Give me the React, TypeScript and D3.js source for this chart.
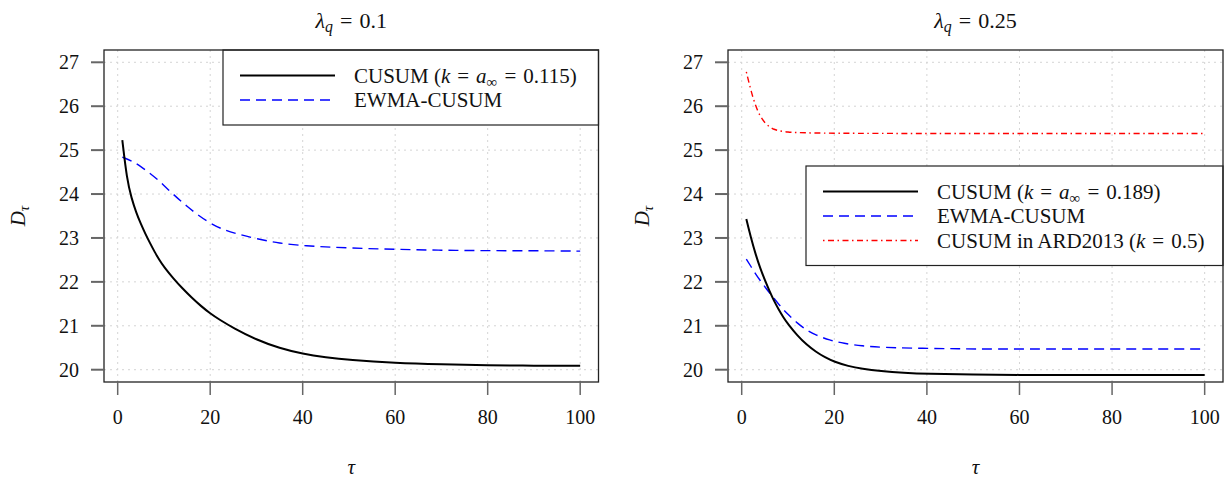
import React from 'react';
import * as d3 from 'd3';

// tau values at which the curves were read
const tauLeftBlack = [1, 2, 3, 4, 5, 6, 7, 8, 9, 10, 12, 14, 16, 18, 20, 22, 25, 30, 35, 40, 45, 50, 60, 70, 80, 90, 100];
const cusumLeft = [25.23, 24.33, 23.9, 23.58, 23.32, 23.09, 22.88, 22.68, 22.5, 22.34, 22.08, 21.85, 21.64, 21.45, 21.28, 21.14, 20.95, 20.68, 20.49, 20.36, 20.28, 20.22, 20.15, 20.12, 20.1, 20.09, 20.09];

const tauLeftBlue = [1, 3, 5, 7, 9, 11, 13, 15, 17, 20, 23, 26, 30, 35, 40, 50, 60, 70, 80, 90, 100];
const ewmaLeft = [24.84, 24.76, 24.63, 24.47, 24.3, 24.09, 23.9, 23.72, 23.55, 23.33, 23.18, 23.09, 22.98, 22.88, 22.82, 22.77, 22.74, 22.72, 22.71, 22.71, 22.7];

const tauRightBlack = [1, 2, 3, 4, 5, 6, 7, 8, 9, 10, 12, 14, 16, 18, 20, 23, 26, 30, 35, 40, 50, 60, 70, 80, 90, 100];
const cusumRight = [23.43, 23.0, 22.63, 22.31, 22.04, 21.79, 21.56, 21.37, 21.19, 21.04, 20.78, 20.57, 20.41, 20.28, 20.18, 20.08, 20.02, 19.97, 19.93, 19.905, 19.89, 19.88, 19.88, 19.88, 19.88, 19.88];

const tauRightBlue = [1, 2, 3, 4, 5, 6, 7, 8, 9, 10, 12, 14, 16, 19, 22, 26, 30, 37, 45, 50, 60, 80, 100];
const ewmaRight = [22.52, 22.35, 22.18, 22.03, 21.89, 21.75, 21.62, 21.49, 21.37, 21.26, 21.06, 20.9, 20.79, 20.67, 20.6, 20.54, 20.51, 20.49, 20.48, 20.47, 20.47, 20.47, 20.47];

const tauRightRed = [1, 2, 3, 4, 5, 6, 7, 8, 10, 12, 15, 20, 30, 40, 60, 80, 100];
const ardRight = [26.78, 26.35, 26.0, 25.77, 25.62, 25.53, 25.47, 25.44, 25.41, 25.4, 25.39, 25.385, 25.38, 25.38, 25.38, 25.38, 25.38];

const xTicks = [0, 20, 40, 60, 80, 100];
const yTicks = [20, 21, 22, 23, 24, 25, 26, 27];

const FONT = '"Liberation Serif", "DejaVu Serif", serif';

type Series = { tau: number[]; vals: number[]; color: string; width: number; dash?: string };
type LegendItem = { color: string; width: number; dash?: string; label: React.ReactNode };

const Sub = ({ children, italic }: { children: React.ReactNode; italic?: boolean }) => (
  <tspan dy={4} fontSize="0.72em" fontStyle={italic ? 'italic' : 'normal'}>{children}</tspan>
);

// "=" with math-like spacing; dy undoes a preceding subscript
const GAP = 7;
const Eq = ({ dy }: { dy?: number }) => <tspan dx={GAP} dy={dy}>=</tspan>;

function Panel(props: {
  left: number; right: number; title: React.ReactNode; series: Series[];
  legend: LegendItem[]; legendBox: { x: number; y: number }; ylabelX: number;
}) {
  const top = 50, bottom = 382;
  const x = d3.scaleLinear().domain([1 - 0.04 * 99, 100 + 0.04 * 99]).range([props.left, props.right]);
  const y = d3.scaleLinear().domain([20 - 0.04 * 7, 27 + 0.04 * 7]).range([bottom, top]);
  const line = d3.line<[number, number]>().x(d => x(d[0])).y(d => y(d[1])).curve(d3.curveBasis);
  const cx = (props.left + props.right) / 2;
  const lb = props.legendBox;
  const rowH = 24.5;
  const lbH = 25.5 + rowH * (props.legend.length - 1) + 25;

  return (
    <g fontFamily={FONT}>
      {/* grid */}
      {xTicks.map(t => (
        <line key={'gx' + t} x1={x(t)} x2={x(t)} y1={top} y2={bottom} stroke="#d4d4d4" strokeDasharray="2,4" />
      ))}
      {yTicks.map(t => (
        <line key={'gy' + t} x1={props.left} x2={props.right} y1={y(t)} y2={y(t)} stroke="#d4d4d4" strokeDasharray="2,4" />
      ))}

      {/* curves */}
      {props.series.map((s, i) => (
        <path key={i} d={line(s.tau.map((t, j) => [t, s.vals[j]]) as [number, number][]) || ''}
          fill="none" stroke={s.color} strokeWidth={s.width} strokeDasharray={s.dash} />
      ))}

      {/* legend */}
      <rect x={lb.x} y={lb.y} width={props.right - lb.x} height={lbH} fill="white" stroke="#222" strokeWidth={1.2} />
      {props.legend.map((it, i) => {
        const ry = lb.y + 25.5 + i * rowH;
        return (
          <g key={i}>
            <line x1={lb.x + 17} x2={lb.x + 112} y1={ry} y2={ry} stroke={it.color} strokeWidth={it.width} strokeDasharray={it.dash} />
            <text x={lb.x + 131} y={ry + 7} fontSize={21} fill="#111">{it.label}</text>
          </g>
        );
      })}

      {/* frame */}
      <rect x={props.left} y={top} width={props.right - props.left} height={bottom - top} fill="none" stroke="#222" strokeWidth={1.3} />

      {/* y axis */}
      {yTicks.map(t => (
        <g key={'yt' + t}>
          <line x1={props.left - 13} x2={props.left} y1={y(t)} y2={y(t)} stroke="#666" strokeWidth={2} />
          <text x={props.left - 25} y={y(t) + 7} textAnchor="end" fontSize={20} fill="#111">{t}</text>
        </g>
      ))}
      {/* x axis */}
      {xTicks.map(t => (
        <g key={'xt' + t}>
          <line x1={x(t)} x2={x(t)} y1={bottom} y2={bottom + 13} stroke="#666" strokeWidth={1.5} />
          <text x={x(t)} y={424} textAnchor="middle" fontSize={20} fill="#111">{t}</text>
        </g>
      ))}

      {/* labels */}
      <text x={cx} y={28} textAnchor="middle" fontSize={22} fill="#111">{props.title}</text>
      <text x={cx} y={474} textAnchor="middle" fontSize={21} fontStyle="italic" fill="#111">τ</text>
      <text transform={`translate(${props.ylabelX},${(top + bottom) / 2}) rotate(-90)`} textAnchor="middle" fontSize={21} fill="#111">
        <tspan fontStyle="italic">D</tspan><Sub italic>τ</Sub>
      </text>
    </g>
  );
}

const lambdaTitle = (v: string) => (
  <>
    <tspan fontStyle="italic">λ</tspan><Sub italic>q</Sub><Eq dy={-4} /><tspan dx={GAP}>{v}</tspan>
  </>
);

const cusumLabel = (v: string) => (
  <>
    CUSUM (<tspan fontStyle="italic">k</tspan><Eq /><tspan dx={GAP} fontStyle="italic">a</tspan><Sub>∞</Sub>
    <Eq dy={-4} /><tspan dx={GAP}>{v + ')'}</tspan>
  </>
);

export default function App() {
  const black = { color: '#000', width: 2 };
  const blue = { color: '#0000ff', width: 1.4, dash: '10,6' };
  const red = { color: '#ff0000', width: 1.4, dash: '1.5,3.5,6,3.5' };

  return (
    <svg width={1231} height={481} style={{ position: 'absolute', left: 0, top: 0, background: 'white' }}>
      <Panel
        left={104} right={598.5} title={lambdaTitle('0.1')} ylabelX={25}
        series={[
          { tau: tauLeftBlue, vals: ewmaLeft, ...blue },
          { tau: tauLeftBlack, vals: cusumLeft, ...black },
        ]}
        legendBox={{ x: 223, y: 50 }}
        legend={[
          { ...black, label: cusumLabel('0.115') },
          { ...blue, label: 'EWMA-CUSUM' },
        ]}
      />
      <Panel
        left={728} right={1223} title={lambdaTitle('0.25')} ylabelX={649}
        series={[
          { tau: tauRightRed, vals: ardRight, ...red },
          { tau: tauRightBlue, vals: ewmaRight, ...blue },
          { tau: tauRightBlack, vals: cusumRight, ...black },
        ]}
        legendBox={{ x: 806, y: 166 }}
        legend={[
          { ...black, label: cusumLabel('0.189') },
          { ...blue, label: 'EWMA-CUSUM' },
          { ...red, label: <>CUSUM in ARD2013 (<tspan fontStyle="italic">k</tspan><Eq /><tspan dx={GAP}>0.5)</tspan></> },
        ]}
      />
    </svg>
  );
}
